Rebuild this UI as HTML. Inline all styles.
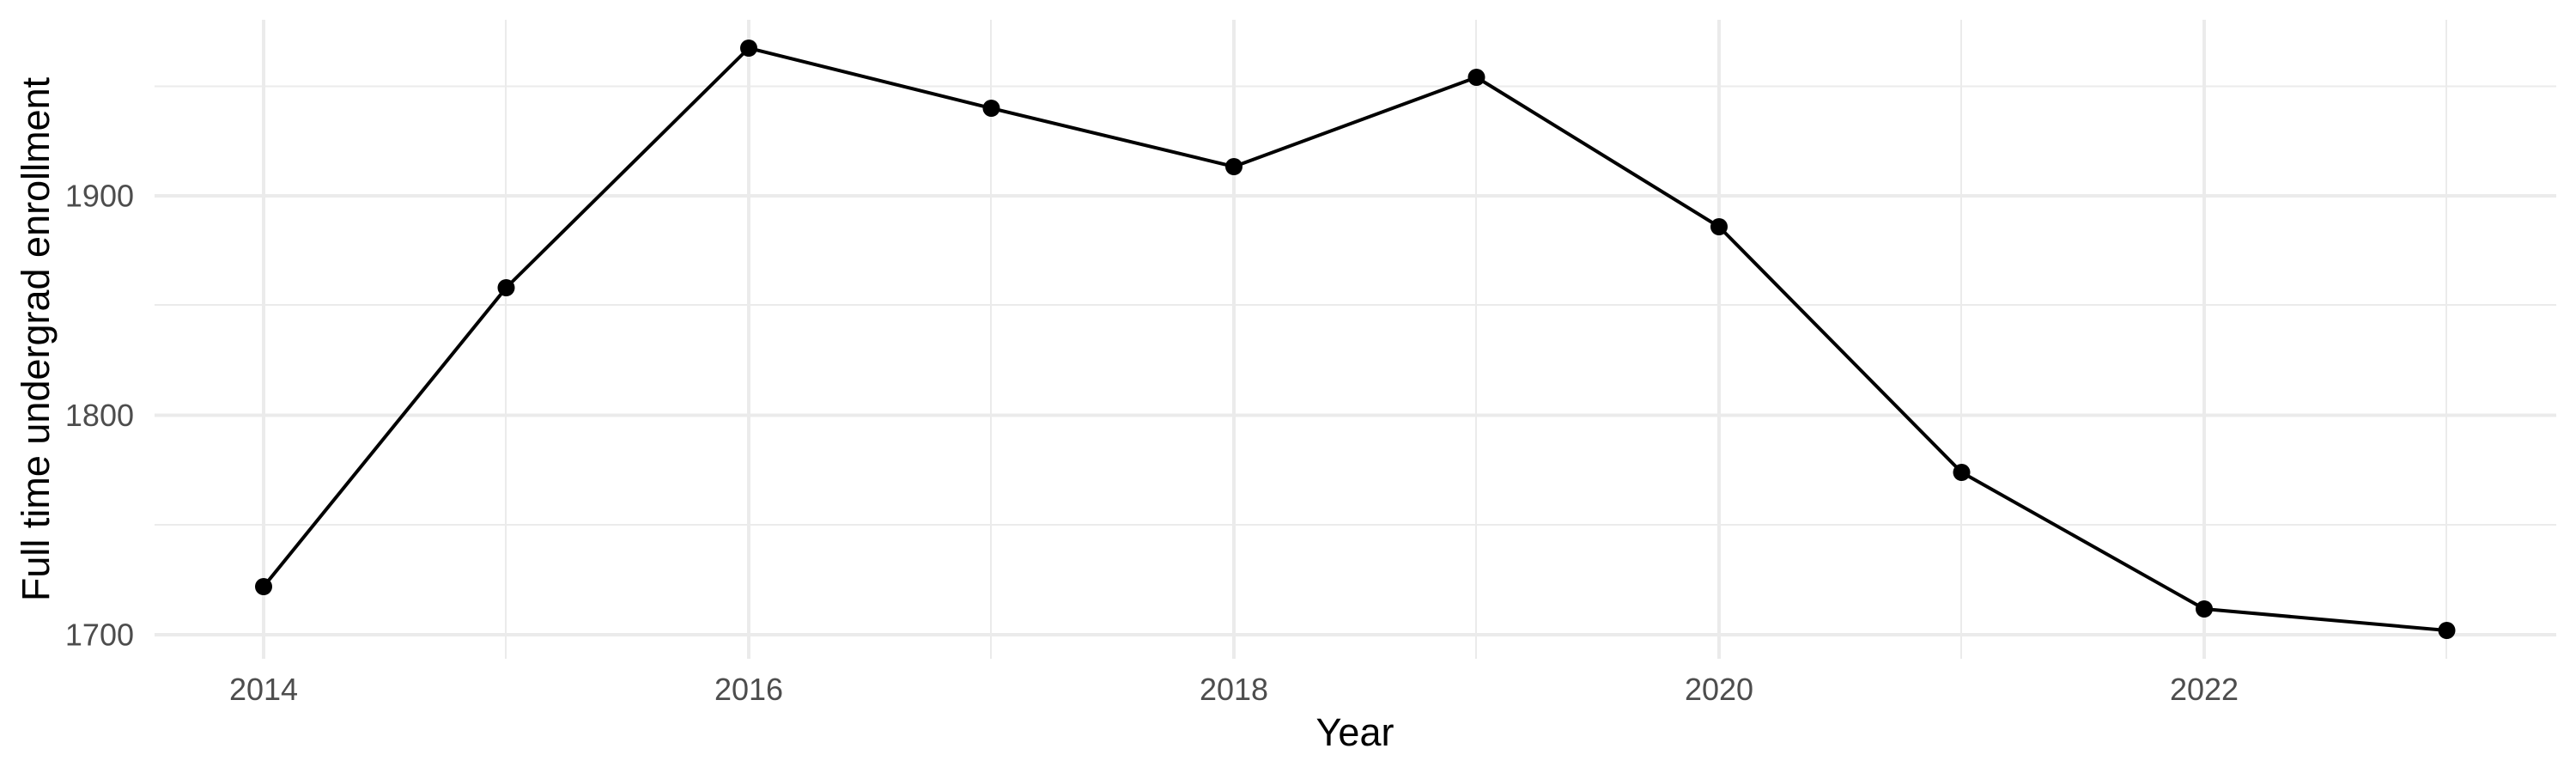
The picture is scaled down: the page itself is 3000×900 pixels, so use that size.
<!DOCTYPE html>
<html><head><meta charset="utf-8"><style>
html,body{margin:0;padding:0;background:#fff;}
svg{display:block;}
</style></head><body>
<svg width="3000" height="900" viewBox="0 0 3000 900" xmlns="http://www.w3.org/2000/svg" font-family="Liberation Sans, Arial, sans-serif">
<rect width="3000" height="900" fill="#fff"/>
<g stroke="#ebebeb" fill="none">
  <line x1="180" x2="2977" y1="100.5" y2="100.5" stroke-width="2"/>
  <line x1="180" x2="2977" y1="355" y2="355" stroke-width="2"/>
  <line x1="180" x2="2977" y1="611" y2="611" stroke-width="2"/>
  <line x1="589" x2="589" y1="23" y2="767" stroke-width="2"/>
  <line x1="1154" x2="1154" y1="23" y2="767" stroke-width="2"/>
  <line x1="1719" x2="1719" y1="23" y2="767" stroke-width="2"/>
  <line x1="2284" x2="2284" y1="23" y2="767" stroke-width="2"/>
  <line x1="2849" x2="2849" y1="23" y2="767" stroke-width="2"/>
  <line x1="180" x2="2977" y1="228" y2="228" stroke-width="4"/>
  <line x1="180" x2="2977" y1="483.5" y2="483.5" stroke-width="4"/>
  <line x1="180" x2="2977" y1="739" y2="739" stroke-width="4"/>
  <line x1="307" x2="307" y1="23" y2="767" stroke-width="4"/>
  <line x1="872" x2="872" y1="23" y2="767" stroke-width="4"/>
  <line x1="1437" x2="1437" y1="23" y2="767" stroke-width="4"/>
  <line x1="2002" x2="2002" y1="23" y2="767" stroke-width="4"/>
  <line x1="2567" x2="2567" y1="23" y2="767" stroke-width="4"/>
</g>
<g fill="#4d4d4d" font-size="36">
  <text x="156" y="240.5" text-anchor="end">1900</text>
  <text x="156" y="496" text-anchor="end">1800</text>
  <text x="156" y="751.5" text-anchor="end">1700</text>
  <text x="307" y="815" text-anchor="middle">2014</text>
  <text x="872" y="815" text-anchor="middle">2016</text>
  <text x="1437" y="815" text-anchor="middle">2018</text>
  <text x="2002" y="815" text-anchor="middle">2020</text>
  <text x="2567" y="815" text-anchor="middle">2022</text>
</g>
<text x="1578" y="868" text-anchor="middle" font-size="45" fill="#000">Year</text>
<text transform="translate(57,395) rotate(-90)" text-anchor="middle" font-size="45" fill="#000">Full time undergrad enrollment</text>
<polyline fill="none" stroke="#000" stroke-width="4" stroke-linejoin="round"
 points="307,683 589.5,335 872,56 1154.5,126 1437,194 1719.5,90 2002,264 2284.5,550 2567,709 2849.5,734"/>
<g fill="#000">
  <circle cx="307" cy="683" r="10"/>
  <circle cx="589.5" cy="335" r="10"/>
  <circle cx="872" cy="56" r="10"/>
  <circle cx="1154.5" cy="126" r="10"/>
  <circle cx="1437" cy="194" r="10"/>
  <circle cx="1719.5" cy="90" r="10"/>
  <circle cx="2002" cy="264" r="10"/>
  <circle cx="2284.5" cy="550" r="10"/>
  <circle cx="2567" cy="709" r="10"/>
  <circle cx="2849.5" cy="734" r="10"/>
</g>
</svg>
</body></html>
